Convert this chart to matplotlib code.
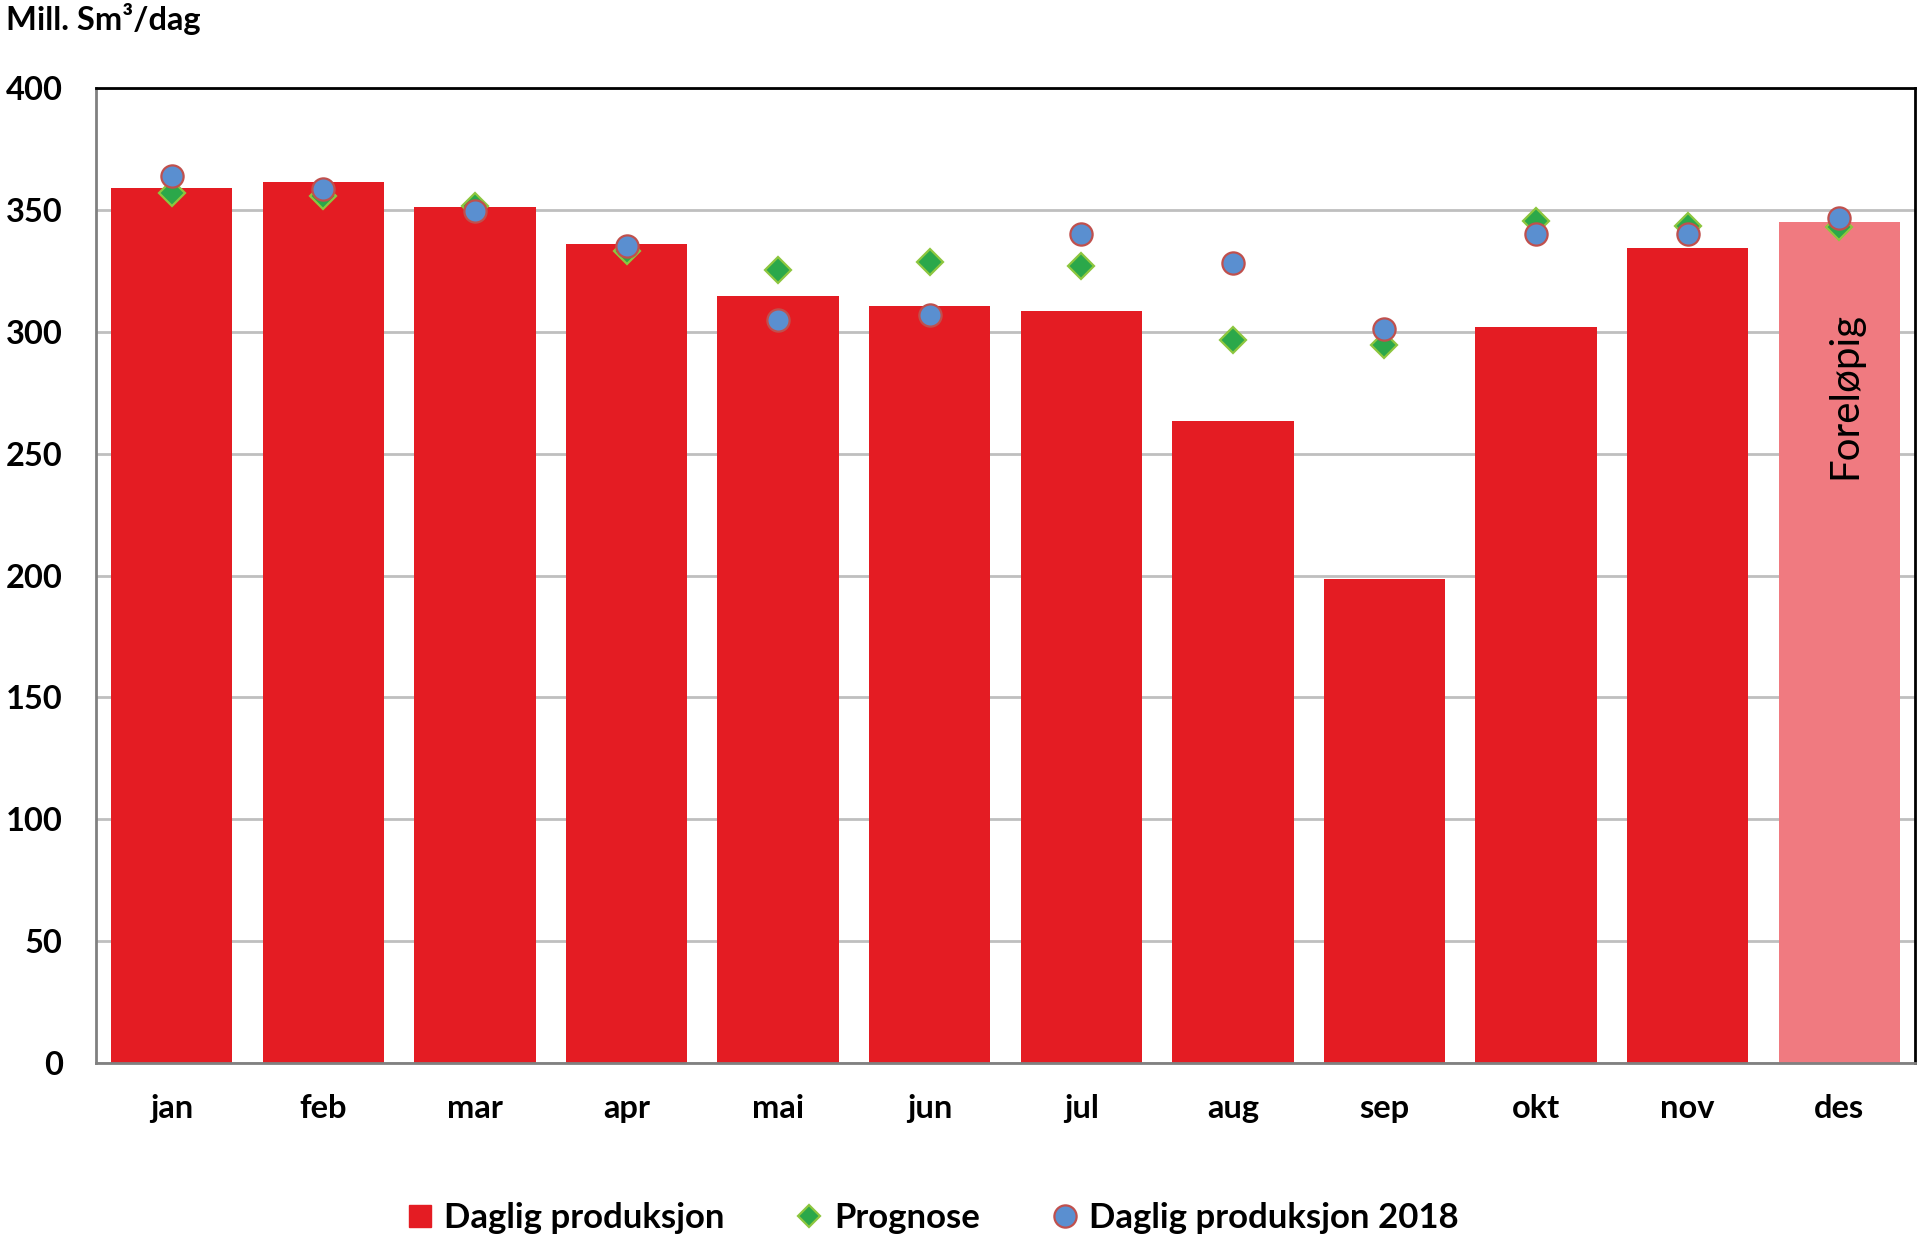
import numpy as np
import matplotlib.pyplot as plt
from matplotlib.lines import Line2D

    ## 0 Data
months = ['jan', 'feb', 'mar', 'apr', 'mai', 'jun', 'jul', 'aug', 'sep', 'okt', 'nov', 'des']
daglig = [359, 361.5, 351, 336, 314.5, 310.5, 308.5, 263.5, 198.5, 302, 334.5, 345]
prognose = [357, 355.5, 351.5, 333, 325.5, 328.5, 327, 296.5, 294.5, 345.5, 343.5, 343]
daglig_2018 = [364, 358.5, 349.5, 335, 305, 307, 340, 328, 301, 340, 340, 346.5]
y_ticks = [0, 50, 100, 150, 200, 250, 300, 350, 400]

plt.rcParams['font.family'] = ['Lato', 'DejaVu Sans']

red = '#E41C23'
red_light = '#F07A80'
bar_colors = [red] * 11 + [red_light]

fig = plt.figure(figsize=(19.2, 12.39), dpi=100)
ax = fig.add_axes([0.05, 0.142, 0.9474, 0.787])

x = np.arange(len(months))
ax.bar(x, daglig, width=0.8, color=bar_colors, zorder=2)

# prognose diamonds and 2018 circles
ax.plot(x, prognose, linestyle='none', marker='D', markersize=13.5,
        markerfacecolor='#2BA84A', markeredgecolor='#8DC63F',
        markeredgewidth=1.6, zorder=3)
ax.plot(x, daglig_2018, linestyle='none', marker='o', markersize=16,
        markerfacecolor='#5A8FD0', markeredgecolor='#C0504D',
        markeredgewidth=1.6, zorder=4)

# label on the preliminary bar
ax.text(11.04, 274, 'Foreløpig', rotation=90, ha='center', va='center',
        fontsize=29, color='black', zorder=5)

ax.set_xlim(-0.5, 11.5)
ax.set_ylim(0, 400)
ax.set_yticks(y_ticks)
ax.set_xticks(x)
ax.set_xticklabels(months)
ax.yaxis.grid(True, color='#BFBFBF', linewidth=2, zorder=0)
ax.set_axisbelow(True)
ax.tick_params(axis='both', length=0, labelsize=23.5)
ax.tick_params(axis='y', pad=24)
ax.tick_params(axis='x', pad=22)
for lab in ax.get_xticklabels() + ax.get_yticklabels():
    lab.set_fontweight('bold')

for side in ['left', 'bottom']:
    ax.spines[side].set_color('#808080')
    ax.spines[side].set_linewidth(2)
for side in ['top', 'right']:
    ax.spines[side].set_color('black')
    ax.spines[side].set_linewidth(2)

fig.text(0.003, 0.985, 'Mill. Sm³/dag', ha='left', va='center',
         fontsize=23.5, fontweight='bold')

handles = [
    Line2D([], [], linestyle='none', marker='s', markersize=16,
           markerfacecolor=red, markeredgecolor=red),
    Line2D([], [], linestyle='none', marker='D', markersize=11,
           markerfacecolor='#2BA84A', markeredgecolor='#8DC63F', markeredgewidth=1.6),
    Line2D([], [], linestyle='none', marker='o', markersize=16,
           markerfacecolor='#5A8FD0', markeredgecolor='#C0504D', markeredgewidth=1.6),
]
labels = ['Daglig produksjon', 'Prognose', 'Daglig produksjon 2018']
fig.legend(handles, labels, loc='center', bbox_to_anchor=(0.4855, 0.017),
           ncol=3, frameon=False, handlelength=0.8, handletextpad=0.3,
           columnspacing=2.05, prop={'size': 25, 'weight': 'bold'})

plt.savefig('out.png', dpi=100)
